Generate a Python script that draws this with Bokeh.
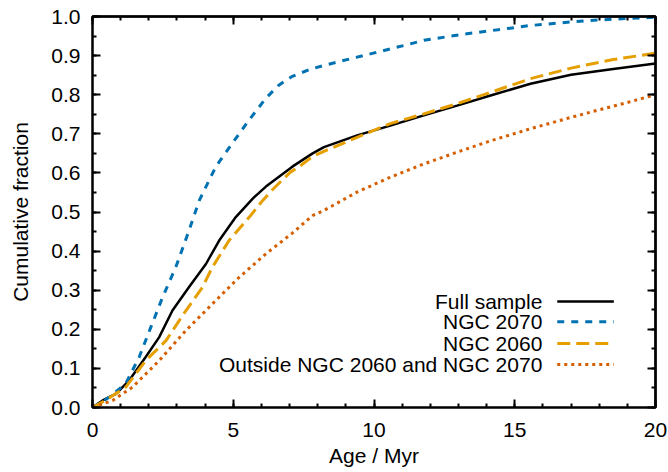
from bokeh.plotting import figure
from bokeh.models import Range1d, FixedTicker, PrintfTickFormatter, LinearAxis, Label, Arrow
from bokeh.embed import file_html
from bokeh.resources import INLINE

# ---------------- data ----------------
full_x = [0, 0.36, 0.83, 1.30, 1.89, 2.37, 2.84, 3.43, 4.03, 4.50, 5.09, 5.70, 6.16, 7.10,
          7.82, 8.22, 9.40, 10.58, 11.77, 12.95, 14.14, 15.56, 17.0, 18.5, 20]
full_y = [0, 0.018, 0.035, 0.069, 0.129, 0.18, 0.248, 0.308, 0.367, 0.427, 0.487, 0.535,
          0.565, 0.616, 0.650, 0.666, 0.696, 0.721, 0.747, 0.772, 0.798, 0.828, 0.851,
          0.866, 0.88]

n2070_x = [0, 0.59, 1.18, 1.66, 2.07, 2.49, 2.96, 3.43, 3.79, 4.38, 4.97, 5.57, 6.16, 6.63,
           7.10, 7.70, 8.22, 9.40, 10.58, 11.77, 13.2, 14.5, 15.56, 17, 17.93, 19, 20]
n2070_y = [0, 0.026, 0.061, 0.129, 0.205, 0.282, 0.359, 0.453, 0.529, 0.616, 0.676, 0.736,
           0.791, 0.825, 0.847, 0.864, 0.875, 0.896, 0.917, 0.939, 0.955, 0.967, 0.977,
           0.986, 0.991, 0.995, 0.998]

n2060_x = [0, 0.5, 1.18, 1.89, 2.61, 3.32, 3.91, 4.26, 4.85, 5.57, 6.04, 6.39, 7.03, 7.34,
           7.82, 8.22, 9.40, 10.58, 11.77, 12.95, 13.9, 15.56, 17, 18.5, 20]
n2060_y = [0, 0.02, 0.052, 0.12, 0.171, 0.248, 0.308, 0.359, 0.427, 0.487, 0.529, 0.557,
           0.602, 0.616, 0.642, 0.655, 0.691, 0.726, 0.751, 0.777, 0.80, 0.841, 0.868,
           0.89, 0.906]

out_x = [0, 0.71, 1.42, 2.37, 3.32, 4.26, 5.21, 6.16, 7.10, 7.82, 8.22, 9.40, 10.58, 11.77,
         12.95, 14.14, 15.56, 17.0, 17.93, 19, 20]
out_y = [0, 0.018, 0.052, 0.12, 0.197, 0.265, 0.333, 0.393, 0.446, 0.491, 0.504, 0.551,
         0.589, 0.623, 0.653, 0.682, 0.713, 0.742, 0.76, 0.78, 0.80]

x_ticks = [0, 5, 10, 15, 20]
x_minor = list(range(0, 21))
y_ticks = [0.0, 0.1, 0.2, 0.3, 0.4, 0.5, 0.6, 0.7, 0.8, 0.9, 1.0]
y_minor = [round(0.05 * i, 2) for i in range(0, 21)]

labels = ["Full sample", "NGC 2070", "NGC 2060", "Outside NGC 2060 and NGC 2070"]
colors = ["#000000", "#0072B2", "#E69F00", "#D55E00"]
dashes = ["solid", "7 7", "13 6", "3 4"]
widths = [2.5, 3, 3, 3]
series = [(full_x, full_y), (n2070_x, n2070_y), (n2060_x, n2060_y), (out_x, out_y)]

FONT = "Liberation Sans"
FS = "21px"

# ---------------- figure ----------------
p = figure(width=668, height=472, output_backend="svg", toolbar_location=None,
           x_range=Range1d(0, 20), y_range=Range1d(0, 1),
           min_border_left=92, min_border_right=13, min_border_top=16, min_border_bottom=65)
p.grid.visible = False
p.outline_line_color = "black"
p.outline_line_width = 2
p.background_fill_color = "white"
p.border_fill_color = "white"

def style_axis(ax, ticks, minor):
    ax.ticker = FixedTicker(ticks=ticks, minor_ticks=minor)
    ax.axis_line_width = 2
    ax.axis_line_color = "black"
    ax.major_tick_in = 8
    ax.major_tick_out = 0
    ax.minor_tick_in = 4
    ax.minor_tick_out = 0
    ax.major_tick_line_width = 2
    ax.minor_tick_line_width = 2
    ax.major_label_text_font = FONT
    ax.major_label_text_font_size = FS
    ax.major_label_text_color = "black"
    ax.axis_label_text_font = FONT
    ax.axis_label_text_font_size = FS
    ax.axis_label_text_font_style = "normal"
    ax.axis_label_text_color = "black"

style_axis(p.xaxis[0], x_ticks, x_minor)
style_axis(p.yaxis[0], y_ticks, y_minor)
p.xaxis[0].axis_label = "Age / Myr"
p.yaxis[0].axis_label = "Cumulative fraction"
p.yaxis[0].formatter = PrintfTickFormatter(format="%.1f")
p.xaxis[0].major_label_standoff = 15
p.yaxis[0].major_label_standoff = 12
p.xaxis[0].axis_label_standoff = 4
p.yaxis[0].axis_label_standoff = 16

# mirrored ticks on top and right (no labels: only "minor" tick lists)
def mirror_axis(minor, length):
    ax = LinearAxis(ticker=FixedTicker(ticks=[], minor_ticks=minor))
    ax.axis_line_width = 2
    ax.axis_line_color = "black"
    ax.minor_tick_in = length
    ax.minor_tick_out = 0
    ax.minor_tick_line_width = 2
    ax.major_tick_in = 0
    ax.major_tick_out = 0
    return ax

p.add_layout(mirror_axis(x_minor, 4), "above")
p.add_layout(mirror_axis(x_ticks, 8), "above")
p.add_layout(mirror_axis(y_minor, 4), "right")
p.add_layout(mirror_axis(y_ticks, 8), "right")

for (xs, ys), c, d, w in zip(series, colors, dashes, widths):
    p.line(xs, ys, line_color=c, line_width=w, line_dash=d)

# ---------------- legend (gnuplot style: text right, sample line after) ----------------
LEG_TEXT_X = 15.98
LEG_LINE_X0 = 16.51
LEG_LINE_X1 = 18.52
LEG_Y = [0.271, 0.219, 0.164, 0.110]
for lab, c, d, w, yy in zip(labels, colors, dashes, widths, LEG_Y):
    p.add_layout(Label(x=LEG_TEXT_X, y=yy, text=lab, text_align="right", text_baseline="middle",
                       text_font=FONT, text_font_size=FS, text_color="black"))
    p.add_layout(Arrow(start=None, end=None, x_start=LEG_LINE_X0, y_start=yy,
                       x_end=LEG_LINE_X1, y_end=yy, line_color=c, line_width=w, line_dash=d))

open("out.html", "w").write(file_html(p, INLINE))
